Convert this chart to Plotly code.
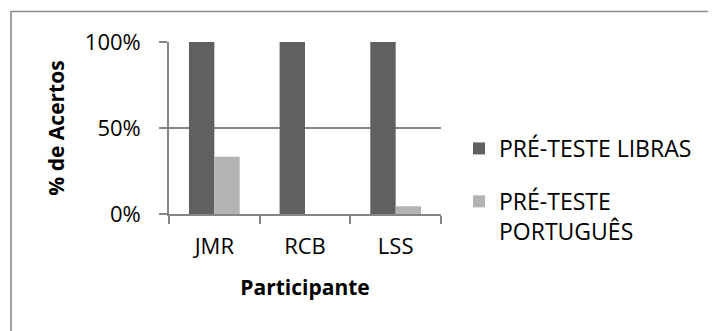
import plotly.graph_objects as go

participantes = ["JMR", "RCB", "LSS"]
libras = [1.0, 1.0, 1.0]
portugues = [0.333, 0.0, 0.045]
serie_nomes = ["PRÉ-TESTE LIBRAS", "PRÉ-TESTE<br>PORTUGUÊS"]
y_ticks = [0, 0.5, 1.0]
y_labels = ["0%", "50%", "100%"]

FONT = "Open Sans"
GRAY = "#868686"
OFF = 8  # default page body margin

fig = go.Figure()
fig.add_trace(go.Bar(x=participantes, y=libras, name=serie_nomes[0],
                     legendgroup="a",
                     marker=dict(color="#606060", line=dict(width=0))))
fig.add_trace(go.Bar(x=participantes, y=portugues, name=serie_nomes[1],
                     legendgroup="b",
                     marker=dict(color="#b3b3b3", line=dict(width=0))))

# plot area in page pixels
L, R, T, B = 169, 441, 42, 214
W, H = 716 - OFF, 331 - OFF

def px(x):
    return (x - L) / (R - L)

def py(y):
    return (B - y) / (B - T)

fig.update_layout(
    width=W, height=H,
    margin=dict(l=L - OFF, r=W - (R - OFF), t=T - OFF, b=H - (B - OFF),
                autoexpand=False),
    paper_bgcolor="white", plot_bgcolor="white",
    barmode="group", bargap=0.44, bargroupgap=0,
    font=dict(family=FONT, size=22, color="black"),
    showlegend=True,
    legend=dict(x=px(459), y=py(127), xanchor="left", yanchor="top",
                font=dict(size=23), valign="top", itemwidth=30,
                traceorder="grouped", tracegroupgap=20,
                bgcolor="rgba(0,0,0,0)"),
    shapes=[dict(type="rect", xref="paper", yref="paper",
                 x0=px(11), x1=px(740), y0=py(11.5), y1=py(360),
                 line=dict(color="#8c8c8c", width=1.6), layer="below")],
)

fig.update_xaxes(
    showline=True, linecolor=GRAY, linewidth=1.6,
    ticks="outside", ticklen=8, tickcolor=GRAY, tickwidth=1.6,
    tickson="boundaries", showgrid=False,
    ticklabelstandoff=12,
    title=dict(text="<b>Participante</b>", font=dict(size=21), standoff=21),
)
fig.update_yaxes(
    range=[0, 1], tickvals=y_ticks, ticktext=y_labels,
    showline=True, linecolor=GRAY, linewidth=1.6,
    ticks="outside", ticklen=8, tickcolor=GRAY, tickwidth=1.6,
    showgrid=True, gridcolor=GRAY, gridwidth=1.6, zeroline=False,
    ticklabelstandoff=14,
    title=dict(text="<b>% de Acertos</b>", font=dict(size=21), standoff=15),
)

fig.write_html("out.html")
